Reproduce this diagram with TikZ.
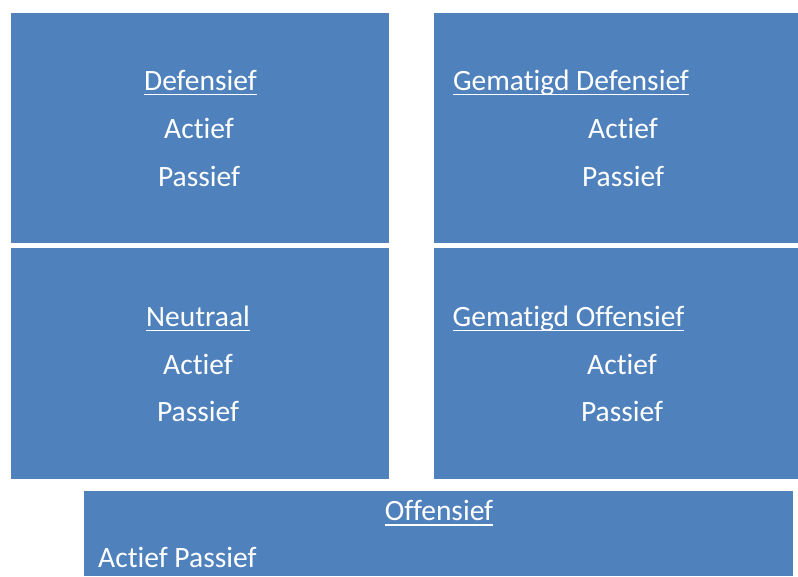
\documentclass[tikz,border=0pt]{standalone}
\usepackage{fontspec}
\setmainfont{Carlito}[Ligatures=NoCommon]
\usepackage{xcolor}
\definecolor{vakblauw}{RGB}{79,129,189}
\tikzset{
	vak/.style={fill=vakblauw, draw=none},
	tekst/.style={text=white, inner sep=0pt, anchor=base, font=\fontsize{29.5}{34}\selectfont},
	onderlijn/.style={draw=white, line width=1.9pt}
}

\begin{document}
\begin{tikzpicture}[x=1pt,y=-1pt]
	\useasboundingbox (0,0) rectangle (798,576);

	% Drawing box Defensief
	\fill [vak] (11,13) rectangle (389,242.5);%

	% Drawing box Gematigd Defensief
	\fill [vak] (434,13) rectangle (798,242.5);%

	% Drawing box Neutraal
	\fill [vak] (11,248) rectangle (389,479);%

	% Drawing box Gematigd Offensief
	\fill [vak] (434,248) rectangle (798,479);%

	% Drawing box Offensief
	\fill [vak] (84,491) rectangle (792.5,576);%

	% Marking Defensief
	\node [tekst] (def) at (200.5,90) {Defensief};%
	\node [tekst] (defa) at (199,138) {Actief};%
	\node [tekst] (defp) at (199,186) {Passief};%

	% Marking Gematigd Defensief
	\node [tekst] (gdef) at (571,90) {Gematigd Defensief};%
	\node [tekst] (gdefa) at (623,138) {Actief};%
	\node [tekst] (gdefp) at (623,186) {Passief};%

	% Marking Neutraal
	\node [tekst] (neu) at (198,326) {Neutraal};%
	\node [tekst] (neua) at (198,374) {Actief};%
	\node [tekst] (neup) at (198,421.5) {Passief};%

	% Marking Gematigd Offensief
	\node [tekst] (goff) at (568.5,326) {Gematigd Offensief};%
	\node [tekst] (goffa) at (622,374) {Actief};%
	\node [tekst] (goffp) at (622,421.5) {Passief};%

	% Marking Offensief
	\node [tekst] (off) at (439,520.5) {Offensief};%
	\node [tekst, anchor=base west] (offap) at (98,567) {Actief Passief};%

	% Underlining the headings
	\foreach \kop in {def,gdef,neu,goff,off}
		\draw [onderlijn] ([yshift=-4.5pt]\kop.base west) -- ([yshift=-4.5pt]\kop.base east);%
\end{tikzpicture}
\end{document}
